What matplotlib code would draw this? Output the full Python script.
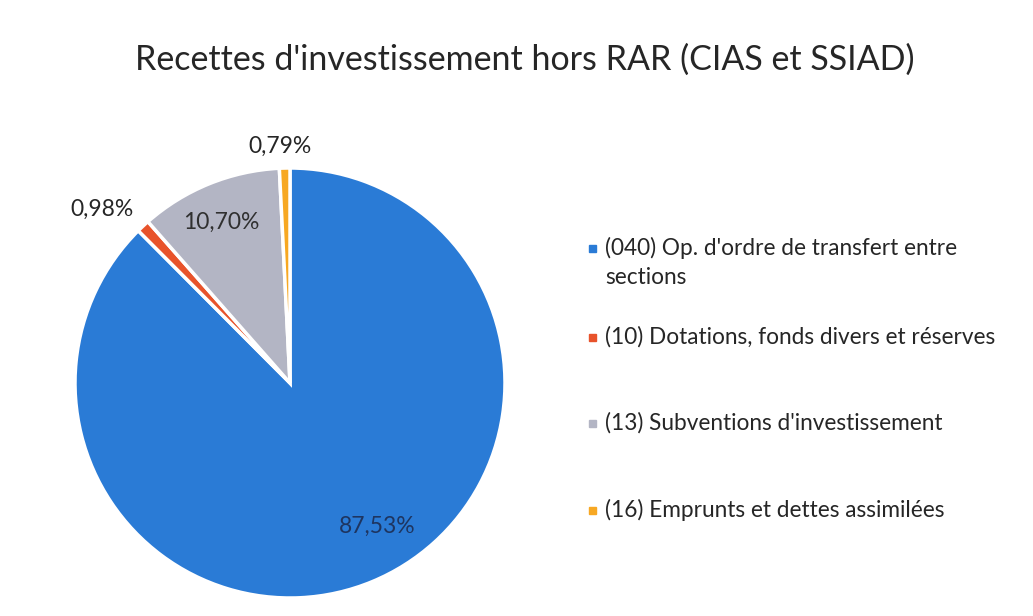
import matplotlib
matplotlib.use("Agg")
import matplotlib.pyplot as plt
import numpy as np
from matplotlib.patches import Rectangle

plt.rcParams['font.family'] = ['Lato', 'DejaVu Sans']

title = "Recettes d'investissement hors RAR (CIAS et SSIAD)"
categories = ["(040) Op. d'ordre de transfert entre\nsections",
              "(10) Dotations, fonds divers et réserves",
              "(13) Subventions d'investissement",
              "(16) Emprunts et dettes assimilées"]
values = [87.53, 0.98, 10.70, 0.79]
labels = ["87,53%", "0,98%", "10,70%", "0,79%"]

colors = ["#2a7bd6", "#e8532b", "#b3b5c4", "#f7a823"]
label_r = [0.78, 1.19, 0.81, 1.10]
label_dang = [9, 4, 1, 1]
label_col = ["#1e3560", "#262626", "#303030", "#262626"]

W, H = 1033, 616
fig = plt.figure(figsize=(W/100, H/100), dpi=100)
cx, cy, R = 290, 383, 215
ax = fig.add_axes([(cx-R)/W, (H-cy-R)/H, 2*R/W, 2*R/H])
wedges, _ = ax.pie(values, colors=colors, startangle=90, counterclock=False,
                   wedgeprops=dict(edgecolor="white", linewidth=2.5))
ax.set_xlim(-1, 1); ax.set_ylim(-1, 1)
ax.set_aspect('equal')
for w, lab, r, da, c in zip(wedges, labels, label_r, label_dang, label_col):
    ang = np.deg2rad((w.theta1 + w.theta2) / 2 + da)
    ax.text(r*np.cos(ang), r*np.sin(ang), lab, ha='center', va='center',
            fontsize=16.5, color=c, clip_on=False)

fig.text(525/W, 1-60/H, title, ha='center', va='center', fontsize=24.5, color="#262626")

ys = [248, 337, 423, 510]
for cat, col, y in zip(categories, colors, ys):
    fig.add_artist(Rectangle(((592-3.5)/W, 1-(y+3.5)/H), 7/W, 7/H,
                             transform=fig.transFigure, color=col))
    fig.text(605/W, 1-y/H, cat.split("\n")[0], ha='left', va='center', fontsize=16.3,
             color="#262626")
    if "\n" in cat:
        fig.text(605/W, 1-(y+30)/H, cat.split("\n")[1], ha='left', va='center',
                 fontsize=16.3, color="#262626")

fig.savefig("out.png", dpi=100, facecolor="white")
